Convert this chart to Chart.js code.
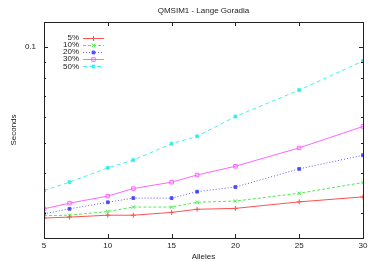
<!DOCTYPE html>
<html>
<head>
<meta charset="utf-8">
<script src="https://cdn.jsdelivr.net/npm/chart.js"></script>
<style>
  body { margin: 0; background: #fff; }
  canvas { display: block; }
</style>
</head>
<body>
<canvas id="chart" width="374" height="262"></canvas>
<script>
const alleles = [5, 7, 10, 12, 15, 17, 20, 25, 30];
const sec5 = [0.0289, 0.0291, 0.0295, 0.0295, 0.0301, 0.0308, 0.0310, 0.0325, 0.0337];
const sec10 = [0.0294, 0.0295, 0.0303, 0.0313, 0.0313, 0.0324, 0.0327, 0.0346, 0.0374];
const sec20 = [0.0298, 0.0309, 0.0324, 0.0334, 0.0334, 0.0350, 0.0362, 0.0413, 0.0456];
const sec30 = [0.0309, 0.0322, 0.0339, 0.0358, 0.0375, 0.0395, 0.0421, 0.0481, 0.0562];
const sec50 = [0.0353, 0.0375, 0.0416, 0.0440, 0.0496, 0.0523, 0.0604, 0.0732, 0.0904];
const seriesNames = ['5%', '10%', '20%', '30%', '50%'];
const chartTitle = 'QMSIM1 - Lange Goradia';

const xTicks = [5, 10, 15, 20, 25, 30];
const yTicks = [0.03, 0.04, 0.05, 0.06, 0.07, 0.08, 0.09, 0.1];
const yTickLabels = ['', '', '', '', '', '', '', '0.1'];

const FONT = { family: '"Liberation Sans", Arial, sans-serif', size: 8 };
const TEXT = '#222';

const toPoints = (vals) => alleles.map((a, i) => ({ x: a, y: vals[i] }));

// estilos de cada serie (como gnuplot, pero mas claros por el antialias)
const styles = [
    { color: 'rgb(255,80,80)', dash: [], point: 'cross', radius: 2.5, fill: 'rgb(255,80,80)' },
    { color: 'rgb(80,235,80)', dash: [3, 2], point: 'crossRot', radius: 2.5, fill: 'rgb(80,235,80)' },
    { color: 'rgb(90,90,255)', dash: [1, 2], point: 'rect', radius: 2, fill: 'rgb(60,60,255)' },
    { color: 'rgb(255,100,255)', dash: [], point: 'rect', radius: 2.5, fill: 'rgba(0,0,0,0)' },
    { color: 'rgb(70,240,240)', dash: [4, 3], point: 'rect', radius: 2, fill: 'rgb(40,235,235)' }
];
const allSeries = [sec5, sec10, sec20, sec30, sec50];

const datasets = allSeries.map((vals, i) => ({
    label: seriesNames[i],
    data: toPoints(vals),
    borderColor: styles[i].color,
    backgroundColor: styles[i].fill,
    borderWidth: 1,
    borderDash: styles[i].dash,
    pointStyle: styles[i].point,
    pointRadius: styles[i].radius,
    pointBorderColor: styles[i].color,
    pointBackgroundColor: styles[i].fill,
    pointBorderWidth: 1,
    fill: false,
    tension: 0
}));

// Marco, marcas hacia adentro, titulo y leyenda, como hace gnuplot
const framePlugin = {
    id: 'frame',
    afterDraw(chart) {
        const { ctx, chartArea: a, scales } = chart;
        ctx.save();
        ctx.strokeStyle = '#222';
        ctx.lineWidth = 1;
        ctx.setLineDash([]);
        ctx.strokeRect(Math.round(a.left) + 0.5, Math.round(a.top) + 0.5,
            Math.round(a.right - a.left), Math.round(a.bottom - a.top));
        ctx.beginPath();
        xTicks.forEach(v => {
            const px = Math.round(scales.x.getPixelForValue(v)) + 0.5;
            ctx.moveTo(px, a.bottom); ctx.lineTo(px, a.bottom - 4);
            ctx.moveTo(px, a.top); ctx.lineTo(px, a.top + 4);
        });
        yTicks.forEach((v, i) => {
            const py = Math.round(scales.y.getPixelForValue(v)) + 0.5;
            const len = yTickLabels[i] ? 4 : 2;
            ctx.moveTo(a.left, py); ctx.lineTo(a.left + len, py);
            ctx.moveTo(a.right, py); ctx.lineTo(a.right - len, py);
        });
        ctx.stroke();

        // titulo centrado sobre el area del grafico
        ctx.fillStyle = TEXT;
        ctx.font = `${FONT.size}px ${FONT.family}`;
        ctx.textAlign = 'center';
        ctx.textBaseline = 'middle';
        ctx.fillText(chartTitle, (a.left + a.right) / 2, 11);

        // leyenda arriba a la izquierda
        const drawPoint = Chart.helpers && Chart.helpers.drawPoint;
        chart.data.datasets.forEach((ds, i) => {
            const y = a.top + 15.5 + i * 7.2;
            ctx.fillStyle = TEXT;
            ctx.textAlign = 'right';
            ctx.fillText(ds.label, a.left + 35, y);
            ctx.strokeStyle = ds.borderColor;
            ctx.setLineDash(ds.borderDash);
            ctx.beginPath();
            ctx.moveTo(a.left + 39, Math.round(y) + 0.5);
            ctx.lineTo(a.left + 60, Math.round(y) + 0.5);
            ctx.stroke();
            ctx.setLineDash([]);
            if (drawPoint) {
                ctx.fillStyle = ds.pointBackgroundColor;
                drawPoint(ctx, { pointStyle: ds.pointStyle, radius: ds.pointRadius, rotation: 0, borderWidth: 1 },
                    a.left + 49.5, Math.round(y) + 0.5);
            }
        });
        ctx.restore();
    }
};

new Chart(document.getElementById('chart'), {
    type: 'line',
    data: { datasets: datasets },
    options: {
        responsive: false,
        animation: false,
        devicePixelRatio: 1,
        layout: { padding: { top: 22, right: 11, bottom: 0, left: 0 } },
        plugins: {
            legend: { display: false },
            tooltip: { enabled: false },
            title: { display: false }
        },
        scales: {
            x: {
                type: 'linear',
                min: 5,
                max: 30,
                grid: { display: false, drawTicks: false },
                border: { display: false },
                afterBuildTicks: (s) => { s.ticks = xTicks.map(v => ({ value: v })); },
                afterFit: (s) => { s.height = 24; },
                ticks: { color: TEXT, font: FONT, padding: 3, maxRotation: 0, autoSkip: false },
                title: { display: true, text: 'Alleles', color: TEXT, font: FONT, padding: { top: 0, bottom: 0 } }
            },
            y: {
                type: 'logarithmic',
                min: 0.025,
                max: 0.12,
                grid: { display: false, drawTicks: false },
                border: { display: false },
                afterBuildTicks: (s) => { s.ticks = yTicks.map(v => ({ value: v })); },
                afterFit: (s) => { s.width = 44; },
                ticks: {
                    color: TEXT, font: FONT, padding: 8, autoSkip: false,
                    callback: (v, i) => yTickLabels[i]
                },
                title: { display: true, text: 'Seconds', color: TEXT, font: FONT, padding: { top: 9, bottom: 0 } }
            }
        }
    },
    plugins: [framePlugin]
});
</script>
</body>
</html>
